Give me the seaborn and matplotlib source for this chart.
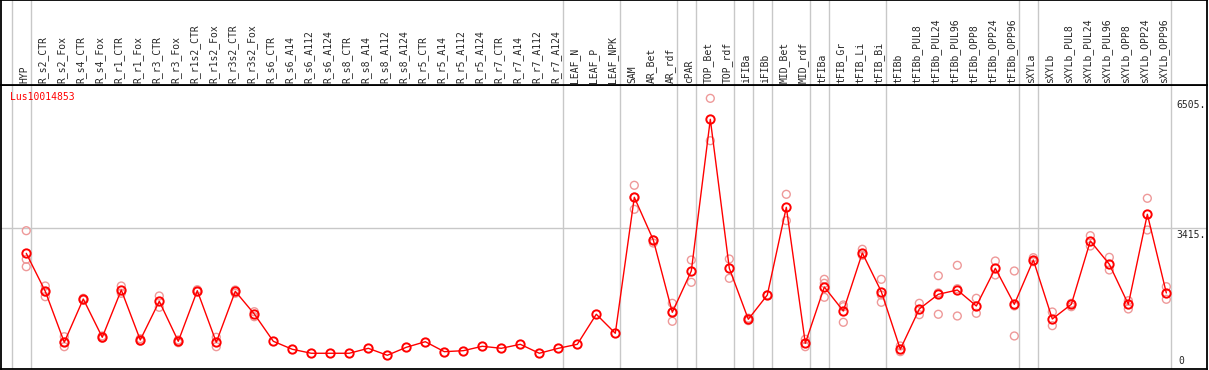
import numpy as np
import pandas as pd
import matplotlib
matplotlib.use('Agg')
import matplotlib.pyplot as plt
import matplotlib.transforms as mtransforms
import seaborn as sns

sns.set_style('white')
plt.rcParams['font.family'] = ['DejaVu Sans Mono', 'DejaVu Sans']

gene_id = 'Lus10014853'

samples = ['HYP', 'R_s2_CTR', 'R_s2_Fox', 'R_s4_CTR', 'R_s4_Fox', 'R_r1_CTR', 'R_r1_Fox',
           'R_r3_CTR', 'R_r3_Fox', 'R_r1s2_CTR', 'R_r1s2_Fox', 'R_r3s2_CTR', 'R_r3s2_Fox',
           'R_s6_CTR', 'R_s6_A14', 'R_s6_A112', 'R_s6_A124', 'R_s8_CTR', 'R_s8_A14',
           'R_s8_A112', 'R_s8_A124', 'R_r5_CTR', 'R_r5_A14', 'R_r5_A112', 'R_r5_A124',
           'R_r7_CTR', 'R_r7_A14', 'R_r7_A112', 'R_r7_A124', 'LEAF_N', 'LEAF_P', 'LEAF_NPK',
           'SAM', 'AR_Bet', 'AR_rdf', 'cPAR', 'TOP_Bet', 'TOP_rdf', 'iFIBa', 'iFIBb',
           'MID_Bet', 'MID_rdf', 'tFIBa', 'tFIB_Gr', 'tFIB_Li', 'tFIB_Bi', 'tFIBb',
           'tFIBb_PUL8', 'tFIBb_PUL24', 'tFIBb_PUL96', 'tFIBb_OPP8', 'tFIBb_OPP24',
           'tFIBb_OPP96', 'sXYLa', 'sXYLb', 'sXYLb_PUL8', 'sXYLb_PUL24', 'sXYLb_PUL96',
           'sXYLb_OPP8', 'sXYLb_OPP24', 'sXYLb_OPP96']

# mean expression per sample (red line)
means = [2821, 1918, 706, 1735, 825, 1949, 761, 1681, 730, 1933, 706, 1918, 1379,
         730, 540, 445, 445, 445, 563, 397, 587, 720, 483, 506, 611, 563, 658, 445, 563,
         658, 1372, 920, 4153, 3138, 1419, 2401, 6007, 2465, 1253, 1830, 3915, 682,
         2020, 1450, 2829, 1909, 540, 1498, 1847, 1949, 1569, 2465, 1609,
         2662, 1260, 1609, 3114, 2560, 1609, 3749, 1878]

# individual replicates (light circles)
replicates = [[3359, 2679, 2503], [2044, 1902, 1790], [839, 706, 601], [1752, 1711],
              [856, 801], [2044, 1871], [791, 730], [1807, 1538], [761, 696],
              [1956, 1909], [825, 601], [1949, 1871], [1433, 1314],
              [], [], [], [], [], [], [], [], [], [], [], [], [], [], [], [],
              [], [], [],
              [4438, 4153, 3867], [3138, 3066], [1633, 1419, 1205], [2662, 2132],
              [6505, 5498], [2686, 2227], [1280, 1220], [1830], [4224, 3597], [777, 601],
              [2203, 2108, 1776], [1593, 1552, 1181], [2917, 2774], [2203, 1830, 1657],
              [618, 483], [1633, 1362], [2289, 1880, 1372], [2536, 1980, 1331],
              [1752, 1395], [2638, 2306], [2401, 1570, 856],
              [2717, 2622], [1426, 1101], [1633, 1552], [3240, 2995], [2726, 2425],
              [1695, 1498], [4129, 3375], [2028, 1728]]

group_ends = [-1, 0, 28, 31, 34, 35, 37, 38, 39, 41, 42, 45, 52, 53, 60]  # separators after these columns
scale_labels = [6505, 3415, 0]
ref_line = 3415

mean_df = pd.DataFrame({'pos': np.arange(len(samples)), 'value': means})
rep_df = pd.DataFrame([(i, v) for i, reps in enumerate(replicates) for v in reps],
                      columns=['pos', 'value'])

W, H = 1209, 370
fig = plt.figure(figsize=(W / 100, H / 100), dpi=100)
ax = fig.add_axes([1 / W, 1 / H, 1206 / W, 284 / H])
hdr = fig.add_axes([1 / W, 285 / H, 1206 / W, 85 / H])

xlim = (-1.33, 62.14)
for a in (ax, hdr):
    a.set_xlim(*xlim)
    a.set_xticks([])
    a.set_yticks([])
    for s in a.spines.values():
        s.set_color('black')
        s.set_linewidth(1.3)
    for b in group_ends:
        a.axvline(b + 0.23, color='#c8c8c8', lw=1, zorder=0)
ax.set_ylim(71, 6822)
hdr.set_ylim(0, 1)

ax.axhline(ref_line, color='#c8c8c8', lw=1, zorder=0)

sns.scatterplot(data=rep_df, x='pos', y='value', ax=ax, marker='o', s=32,
                facecolors='none', edgecolor='#ee9999', linewidth=1.0, legend=False, zorder=2)
sns.lineplot(data=mean_df, x='pos', y='value', ax=ax, color='red', lw=1, estimator=None,
             marker='o', markersize=6, mfc='none', mec='red', mew=1.4, zorder=3)
ax.set_xlabel('')
ax.set_ylabel('')

# column labels
tr = mtransforms.blended_transform_factory(hdr.transData, hdr.transAxes)
for i, name in enumerate(samples):
    hdr.text(i - 0.12, 0.025, name, rotation=90, ha='center', va='bottom',
             fontsize=7, transform=tr)

# scale labels on the right
ytr = mtransforms.blended_transform_factory(ax.transAxes, ax.transData)
lo = ax.get_ylim()[0]
for v in scale_labels:
    if v > lo:
        ax.annotate(f'{v}.', xy=(0.975, v), xycoords=ytr, xytext=(0, -2),
                    textcoords='offset pixels', ha='left', va='top', fontsize=7)
    else:
        ax.annotate(f'{v}', xy=(0.9765, lo), xycoords=ytr, xytext=(0, 3),
                    textcoords='offset pixels', ha='left', va='bottom', fontsize=7)

fig.text(10 / W, 1 - 97 / H, gene_id, color='red', fontsize=7, ha='left', va='center')

fig.savefig('out.png', dpi=100)
